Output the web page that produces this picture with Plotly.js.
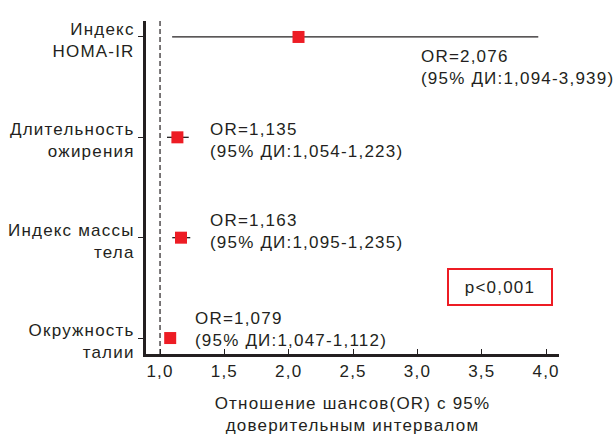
<!DOCTYPE html>
<html>
<head>
<meta charset="utf-8">
<script src="https://cdn.plot.ly/plotly-3.0.1.min.js"></script>
<style>
html,body{margin:0;padding:0;background:#fff;}
#chart{width:615px;height:435px;}
#chart svg text{letter-spacing:1.2px;}
</style>
</head>
<body>
<div id="chart"></div>
<script>
var categories = ["Индекс<br>HOMA-IR", "Длительность<br>ожирения", "Индекс массы<br>тела", "Окружность<br>талии"];
var catPos = [3, 2, 1, 0];
var orValues = [2.076, 1.135, 1.163, 1.079];
var ciLow = [1.094, 1.054, 1.095, 1.047];
var ciHigh = [3.939, 1.223, 1.235, 1.112];
var xTickVals = [1.0, 1.5, 2.0, 2.5, 3.0, 3.5, 4.0];
var pText = "p<0,001";

function fmt(v) { return v.toFixed(3).replace('.', ','); }

var FONT = "Liberation Sans, Arial, Helvetica, sans-serif";
var TXT = "#231f20";
var RED = "#ed1c24";
var FS = 17;

var trace = {
  type: "scatter",
  mode: "markers",
  x: orValues,
  y: catPos,
  marker: {symbol: "square", size: 12, color: RED},
  error_x: {
    type: "data",
    symmetric: false,
    array: orValues.map(function (v, i) { return ciHigh[i] - v; }),
    arrayminus: orValues.map(function (v, i) { return v - ciLow[i]; }),
    color: "#231f20",
    thickness: 1.3,
    width: 0
  },
  hoverinfo: "x+y",
  showlegend: false
};

var annPos = [
  {x: 3.013, y: 2.70},
  {x: 1.373, y: 1.973},
  {x: 1.373, y: 1.057},
  {x: 1.256, y: 0.09}
];

var annotations = orValues.map(function (v, i) {
  return {
    x: annPos[i].x, y: annPos[i].y, xref: "x", yref: "y",
    xanchor: "left", yanchor: "middle", align: "left",
    showarrow: false,
    text: "OR=" + fmt(v) + "<br>(95% ДИ:" + fmt(ciLow[i]) + "-" + fmt(ciHigh[i]) + ")",
    font: {family: FONT, size: FS, color: TXT}
  };
});

annotations.push({
  x: 3.642, y: 0.51, xref: "x", yref: "y",
  xanchor: "center", yanchor: "middle",
  showarrow: false,
  text: pText,
  width: 100, height: 32,
  bordercolor: RED, borderwidth: 2, borderpad: 1,
  font: {family: FONT, size: FS, color: TXT}
});

var layout = {
  width: 615, height: 435,
  margin: {l: 146, r: 56, t: 21, b: 81},
  paper_bgcolor: "#fff", plot_bgcolor: "#fff",
  separators: ", ",
  font: {family: FONT, size: FS, color: TXT},
  xaxis: {
    range: [0.891, 4.10],
    tickvals: xTickVals,
    tickformat: ".1f",
    ticks: "inside", ticklen: 5, tickwidth: 1, tickcolor: TXT,
    showline: true, linewidth: 3, linecolor: TXT,
    showgrid: false, zeroline: false,
    tickfont: {family: FONT, size: FS, color: TXT},
    title: {
      text: "Отношение шансов(OR) с 95%<br>доверительным интервалом",
      font: {family: FONT, size: FS, color: TXT},
      standoff: 20
    }
  },
  yaxis: {
    range: [-0.159, 3.159],
    tickvals: catPos,
    ticktext: categories,
    ticks: "outside", ticklen: 5, tickwidth: 1, tickcolor: TXT,
    ticklabelshift: 3,
    showline: true, linewidth: 3, linecolor: TXT,
    showgrid: false, zeroline: false,
    tickfont: {family: FONT, size: FS, color: TXT}
  },
  shapes: [{
    type: "line", xref: "x", yref: "paper",
    x0: 1.0, x1: 1.0, y0: 0, y1: 1,
    line: {color: TXT, width: 1.2, dash: "5px,3px"}
  }],
  annotations: annotations
};

Plotly.newPlot("chart", [trace], layout, {displayModeBar: false, staticPlot: true});
</script>
</body>
</html>
